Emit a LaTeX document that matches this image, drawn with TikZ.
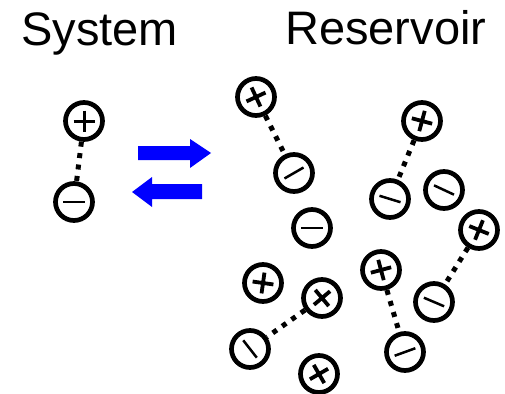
\documentclass[tikz,border=0pt]{standalone}
\usepackage{fontspec}
\setmainfont{Liberation Sans}
\begin{document}
\begin{tikzpicture}[x=1pt,y=-1pt,
  ion/.style={circle,draw,line width=4.7,minimum size=37,inner sep=0},
  bond/.style={line width=5,dash pattern=on 5 off 6.5},
  flow/.style={fill={rgb,255:red,0;green,0;blue,255},draw=none},
  label/.style={anchor=base west,inner sep=0,font=\fontsize{47}{56}\selectfont}]
\useasboundingbox (0,0) rectangle (505,393);

% \ionplus[bar width]{name}{position}{angle}
\newcommand\ionplus[4][3.8]{%
  \node[ion] (#2) at (#3) {};
  \draw[line width=#1,shift={(#2.center)},rotate=#4] (-10.5,0) -- (10.5,0) (0,-10.5) -- (0,10.5);}
% \ionminus[bar width]{name}{position}{angle}
\newcommand\ionminus[4][2.5]{%
  \node[ion] (#2) at (#3) {};
  \draw[line width=#1,shift={(#2.center)},rotate=#4] (-11,0) -- (11,0);}

% headings
\node[label] (sys) at (21,46) {System};
\node[label] (res) at (285,45) {Reservoir};

% the system: one bound pair
\ionplus[3]{sp}{84,121}{0}
\ionminus[2.6]{sm}{74,202}{0}
\draw[bond] (sp) -- (sm);

% exchange arrows
\fill[flow] (138,146) -- (190,146) -- (190,139) -- (211,153) -- (190,168) -- (190,160) -- (138,160) -- cycle;
\fill[flow] (202,184) -- (152,184) -- (152,177) -- (132,192) -- (152,207) -- (152,199) -- (202,199) -- cycle;

% the reservoir: bound pairs
\ionplus{ap}{256,97}{25}
\ionminus{am}{294,173}{30}
\draw[bond] (ap) -- (am);

\ionplus{bp}{422,121}{-15}
\ionminus{bm}{390,199}{-17}
\draw[bond] (bp) -- (bm);

\ionplus{cp}{479,230}{-22}
\ionminus{cm}{434,302}{-23}
\draw[bond] (cp) -- (cm);

\ionplus{dp}{381,270}{15}
\ionminus{dm}{405,352}{20}
\draw[bond] (dp) -- (dm);

\ionplus{ep}{322,298}{40}
\ionminus{em}{250,349}{-52}
\draw[bond] (ep) -- (em);

% the reservoir: free ions
\ionminus{f1}{444,190}{-25}
\ionminus{f2}{312,228}{0}
\ionplus{f3}{263,283}{-8}
\ionplus{f4}{319,374}{30}
\end{tikzpicture}
\end{document}
